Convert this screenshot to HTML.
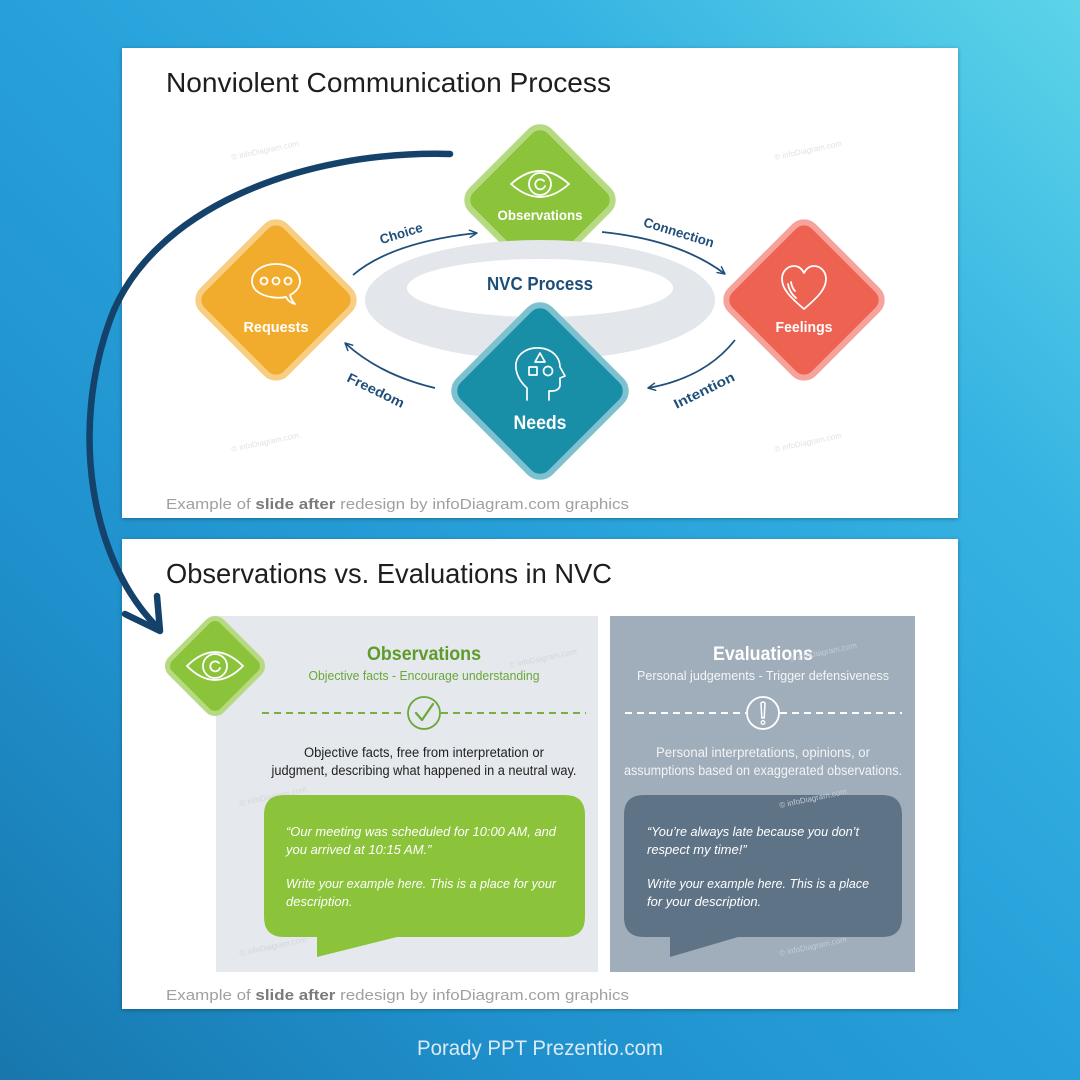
<!DOCTYPE html>
<html><head><meta charset="utf-8"><style>
html,body{margin:0;padding:0;width:1080px;height:1080px;overflow:hidden;}
svg{display:block;}
text{font-family:"Liberation Sans",sans-serif;}
</style></head><body>
<svg width="1080" height="1080" viewBox="0 0 1080 1080" xmlns="http://www.w3.org/2000/svg">
<defs>
<linearGradient id="bg" x1="0" y1="1080" x2="1080" y2="0" gradientUnits="userSpaceOnUse">
<stop offset="0" stop-color="#1877ad"/>
<stop offset="0.25" stop-color="#1f90cc"/>
<stop offset="0.5" stop-color="#27a0da"/>
<stop offset="0.75" stop-color="#36b3e2"/>
<stop offset="1" stop-color="#5cd4e8"/>
</linearGradient>
<filter id="sh" x="-5%" y="-5%" width="110%" height="110%"><feDropShadow dx="0" dy="1" stdDeviation="2" flood-color="#000" flood-opacity="0.3"/></filter>
<marker id="ah" viewBox="0 0 10 10" refX="9" refY="5" markerWidth="9" markerHeight="9" markerUnits="userSpaceOnUse" orient="auto"><path d="M1,1 L9,5 L1,9" fill="none" stroke="#1f4f7a" stroke-width="1.6" stroke-linecap="round" stroke-linejoin="round"/></marker>
</defs>
<rect width="1080" height="1080" fill="url(#bg)"/>

<!-- slide 1 -->
<rect x="122" y="48" width="836" height="470" fill="#ffffff" filter="url(#sh)"/>
<text x="166" y="92" font-size="28" fill="#1e1e1e" textLength="445" lengthAdjust="spacingAndGlyphs">Nonviolent Communication Process</text>

<g font-size="8" fill="#e2e2e2">
<text x="232" y="160" transform="rotate(-12 232 160)">© infoDiagram.com</text>
<text x="775" y="160" transform="rotate(-12 775 160)">© infoDiagram.com</text>
<text x="232" y="452" transform="rotate(-12 232 452)">© infoDiagram.com</text>
<text x="775" y="452" transform="rotate(-12 775 452)">© infoDiagram.com</text>
</g>

<!-- Observations diamond (behind ring) -->
<rect x="-55.5" y="-55.5" width="111" height="111" rx="14" fill="#8bc33b" stroke="#b6da82" stroke-width="6" transform="translate(540 200) rotate(45)"/>
<!-- eye icon -->
<g fill="none" stroke="#ffffff" stroke-width="1.8" stroke-linecap="round">
<path d="M511,184 Q540,158 569,184 Q540,210 511,184 Z"/>
<circle cx="540" cy="184" r="11"/>
<path d="M544,181 A5,5 0 1 0 545,186"/>
</g>
<text x="540" y="220" font-size="14" font-weight="bold" fill="#ffffff" text-anchor="middle" textLength="85" lengthAdjust="spacingAndGlyphs">Observations</text>

<!-- ring -->
<ellipse cx="540" cy="300" rx="175" ry="60" fill="#e3e6ea"/>
<ellipse cx="540" cy="288" rx="133" ry="29" fill="#ffffff"/>
<text x="540" y="290" font-size="18" font-weight="bold" fill="#1d4e78" text-anchor="middle" textLength="106" lengthAdjust="spacingAndGlyphs">NVC Process</text>

<!-- Requests -->
<rect x="-59" y="-59" width="118" height="118" rx="14" fill="#f2ac2d" stroke="#f8ce83" stroke-width="6" transform="translate(276 300) rotate(45)"/>
<g fill="none" stroke="#ffffff" stroke-width="1.8" stroke-linejoin="round">
<path d="M286,297 C281,298 276,298 271,297 C259,295 252,289 252,281 C252,271 263,264 276,264 C289,264 300,271 300,281 C300,287 296,292 290,295 C291,299 293,302 295,304 C291,303 288,301 286,297 Z"/>
<circle cx="264" cy="281" r="3.5"/><circle cx="276" cy="281" r="3.5"/><circle cx="288" cy="281" r="3.5"/>
</g>
<text x="276" y="332" font-size="15" font-weight="bold" fill="#ffffff" text-anchor="middle" textLength="65" lengthAdjust="spacingAndGlyphs">Requests</text>

<!-- Feelings -->
<rect x="-59" y="-59" width="118" height="118" rx="14" fill="#ee6251" stroke="#f5a39b" stroke-width="6" transform="translate(804 300) rotate(45)"/>
<g fill="none" stroke="#ffffff" stroke-width="1.8" stroke-linejoin="round" stroke-linecap="round">
<path d="M804,309 C790,297 782,289 782,279 C782,271 788,266 794,266 C799,266 802,269 804,273 C806,269 809,266 814,266 C820,266 826,271 826,279 C826,289 818,297 804,309 Z"/>
<path d="M788,284 Q789,292 796,298"/>
<path d="M791,282 Q792,288 795,291"/>
</g>
<text x="804" y="332" font-size="15" font-weight="bold" fill="#ffffff" text-anchor="middle" textLength="57" lengthAdjust="spacingAndGlyphs">Feelings</text>

<!-- Needs -->
<rect x="-65" y="-65" width="130" height="130" rx="15" fill="#198ea7" stroke="#7dc1d0" stroke-width="6" transform="translate(540 391) rotate(45)"/>
<g fill="none" stroke="#ffffff" stroke-width="1.7" stroke-linejoin="round" stroke-linecap="round">
<path d="M527,400 L527,388 C519,381 515,372 516,363 C518,353 528,347 540,348 C552,349 560,357 560,367 L565,376 L560,378 L560,385 C560,389 556,391 552,391 L549,391 L549,400"/>
<path d="M540,353 L545,362 L535,362 Z"/>
<rect x="529" y="367" width="8" height="8"/>
<circle cx="548" cy="371" r="4.5"/>
</g>
<text x="540" y="429" font-size="19" font-weight="bold" fill="#ffffff" text-anchor="middle" textLength="53" lengthAdjust="spacingAndGlyphs">Needs</text>

<!-- small arrows -->
<g fill="none" stroke="#1f4f7a" stroke-width="1.8" marker-end="url(#ah)">
<path d="M353,275 Q392,242 477,233"/>
<path d="M602,232 Q680,240 725,274"/>
<path d="M735,340 Q705,378 648,388"/>
<path d="M435,388 Q380,375 345,343"/>
</g>
<g font-size="13.5" font-weight="bold" fill="#1f4f7a" text-anchor="middle">
<text x="401" y="238" transform="rotate(-17 401 233)" textLength="44" lengthAdjust="spacingAndGlyphs">Choice</text>
<text x="679" y="237" transform="rotate(17 679 232)" textLength="73" lengthAdjust="spacingAndGlyphs">Connection</text>
<text x="704" y="395" transform="rotate(-26 704 390)" textLength="66" lengthAdjust="spacingAndGlyphs">Intention</text>
<text x="376" y="395" transform="rotate(26 376 390)" textLength="62" lengthAdjust="spacingAndGlyphs">Freedom</text>
</g>

<text x="166" y="509" font-size="15" fill="#a0a0a0" textLength="463" lengthAdjust="spacingAndGlyphs">Example of <tspan font-weight="bold" fill="#7a7a7a">slide after</tspan> redesign by infoDiagram.com graphics</text>

<!-- slide 2 -->
<rect x="122" y="539" width="836" height="470" fill="#ffffff" filter="url(#sh)"/>
<text x="166" y="583" font-size="27.5" fill="#1e1e1e" textLength="446" lengthAdjust="spacingAndGlyphs">Observations vs. Evaluations in NVC</text>

<rect x="216" y="616" width="382" height="356" fill="#e5e8ec"/>
<rect x="610" y="616" width="305" height="356" fill="#a0adba"/>

<g font-size="8" fill="#d2d6db">
<text x="240" y="806" transform="rotate(-12 240 806)">© infoDiagram.com</text>
<text x="240" y="956" transform="rotate(-12 240 956)">© infoDiagram.com</text>
<text x="510" y="668" transform="rotate(-12 510 668)">© infoDiagram.com</text>
</g>

<!-- green diamond with eye -->
<rect x="-36.5" y="-36.5" width="73" height="73" rx="10" fill="#8bc33b" stroke="#b6da82" stroke-width="5" transform="translate(215 666) rotate(45)"/>
<g fill="none" stroke="#ffffff" stroke-width="1.8" stroke-linecap="round">
<path d="M187,666 Q215,638 243,666 Q215,694 187,666 Z"/>
<circle cx="215" cy="666" r="12"/>
<path d="M219,663 A5,5 0 1 0 220,668"/>
</g>

<!-- left panel content -->
<text x="424" y="660" font-size="19" font-weight="bold" fill="#5e9b2b" text-anchor="middle" textLength="114" lengthAdjust="spacingAndGlyphs">Observations</text>
<text x="424" y="680" font-size="13" fill="#6aa83a" text-anchor="middle" textLength="231" lengthAdjust="spacingAndGlyphs">Objective facts - Encourage understanding</text>
<line x1="262" y1="713" x2="406" y2="713" stroke="#77b040" stroke-width="2" stroke-dasharray="7,5"/>
<line x1="441" y1="713" x2="586" y2="713" stroke="#77b040" stroke-width="2" stroke-dasharray="7,5"/>
<circle cx="424" cy="713" r="16" fill="none" stroke="#6aa83a" stroke-width="1.8"/>
<path d="M416,713 L422,720 L433,704" fill="none" stroke="#6aa83a" stroke-width="2.2" stroke-linecap="round" stroke-linejoin="round"/>
<text x="424" y="757" font-size="13.5" fill="#222222" text-anchor="middle" textLength="240" lengthAdjust="spacingAndGlyphs">Objective facts, free from interpretation or</text>
<text x="424" y="775" font-size="13.5" fill="#222222" text-anchor="middle" textLength="305" lengthAdjust="spacingAndGlyphs">judgment, describing what happened in a neutral way.</text>

<!-- green bubble -->
<path d="M284,795 L565,795 Q585,795 585,815 L585,917 Q585,937 565,937 L397,937 L317,957 L317,937 L284,937 Q264,937 264,917 L264,815 Q264,795 284,795 Z" fill="#8bc33b"/>
<g font-size="13" font-style="italic" fill="#ffffff">
<text x="286" y="836" textLength="270" lengthAdjust="spacingAndGlyphs">“Our meeting was scheduled for 10:00 AM, and</text>
<text x="286" y="854">you arrived at 10:15 AM.”</text>
<text x="286" y="888" textLength="270" lengthAdjust="spacingAndGlyphs">Write your example here. This is a place for your</text>
<text x="286" y="906">description.</text>
</g>

<!-- right panel content -->
<text x="763" y="660" font-size="19" font-weight="bold" fill="#ffffff" text-anchor="middle" textLength="100" lengthAdjust="spacingAndGlyphs">Evaluations</text>
<text x="763" y="680" font-size="13" fill="#f4f6f8" text-anchor="middle" textLength="252" lengthAdjust="spacingAndGlyphs">Personal judgements  - Trigger defensiveness</text>
<line x1="625" y1="713" x2="746" y2="713" stroke="#ffffff" stroke-width="2" stroke-dasharray="7,5"/>
<line x1="780" y1="713" x2="902" y2="713" stroke="#ffffff" stroke-width="2" stroke-dasharray="7,5"/>
<circle cx="763" cy="713" r="16" fill="none" stroke="#ffffff" stroke-width="1.8"/>
<path d="M761,703 Q763,701 765,703 L764.2,718 L761.8,718 Z" fill="none" stroke="#ffffff" stroke-width="1.5" stroke-linejoin="round"/>
<circle cx="763" cy="722.5" r="1.8" fill="none" stroke="#ffffff" stroke-width="1.3"/>
<text x="763" y="757" font-size="13.5" fill="#f2f4f6" text-anchor="middle" textLength="214" lengthAdjust="spacingAndGlyphs">Personal interpretations, opinions, or</text>
<text x="763" y="775" font-size="13.5" fill="#f2f4f6" text-anchor="middle" textLength="278" lengthAdjust="spacingAndGlyphs">assumptions based on exaggerated observations.</text>

<!-- dark bubble -->
<path d="M644,795 L882,795 Q902,795 902,815 L902,917 Q902,937 882,937 L738,937 L670,957 L670,937 L644,937 Q624,937 624,917 L624,815 Q624,795 644,795 Z" fill="#5f7387"/>
<g font-size="13" font-style="italic" fill="#ffffff">
<text x="647" y="836" textLength="212" lengthAdjust="spacingAndGlyphs">“You’re always late because you don’t</text>
<text x="647" y="854">respect my time!”</text>
<text x="647" y="888" textLength="222" lengthAdjust="spacingAndGlyphs">Write your example here. This is a place</text>
<text x="647" y="906">for your description.</text>
</g>
<g font-size="8" fill="#c4ccd5">
<text x="780" y="808" transform="rotate(-12 780 808)">© infoDiagram.com</text>
<text x="780" y="956" transform="rotate(-12 780 956)">© infoDiagram.com</text>
<text x="790" y="662" transform="rotate(-12 790 662)">© infoDiagram.com</text>
</g>

<text x="166" y="1000" font-size="15" fill="#a0a0a0" textLength="463" lengthAdjust="spacingAndGlyphs">Example of <tspan font-weight="bold" fill="#7a7a7a">slide after</tspan> redesign by infoDiagram.com graphics</text>

<!-- big connector arrow -->
<g fill="none" stroke="#15426a" stroke-width="6.5" stroke-linecap="round" stroke-linejoin="round">
<path d="M450,154 C300,150 150,210 110,320 C70,430 90,560 158,628"/>
<path d="M157,596 L160,631 L125,614"/>
</g>

<!-- caption -->
<text x="540" y="1055" font-size="21" fill="#dbeaf5" text-anchor="middle" textLength="246" lengthAdjust="spacingAndGlyphs">Porady PPT Prezentio.com</text>
</svg>
</body></html>
